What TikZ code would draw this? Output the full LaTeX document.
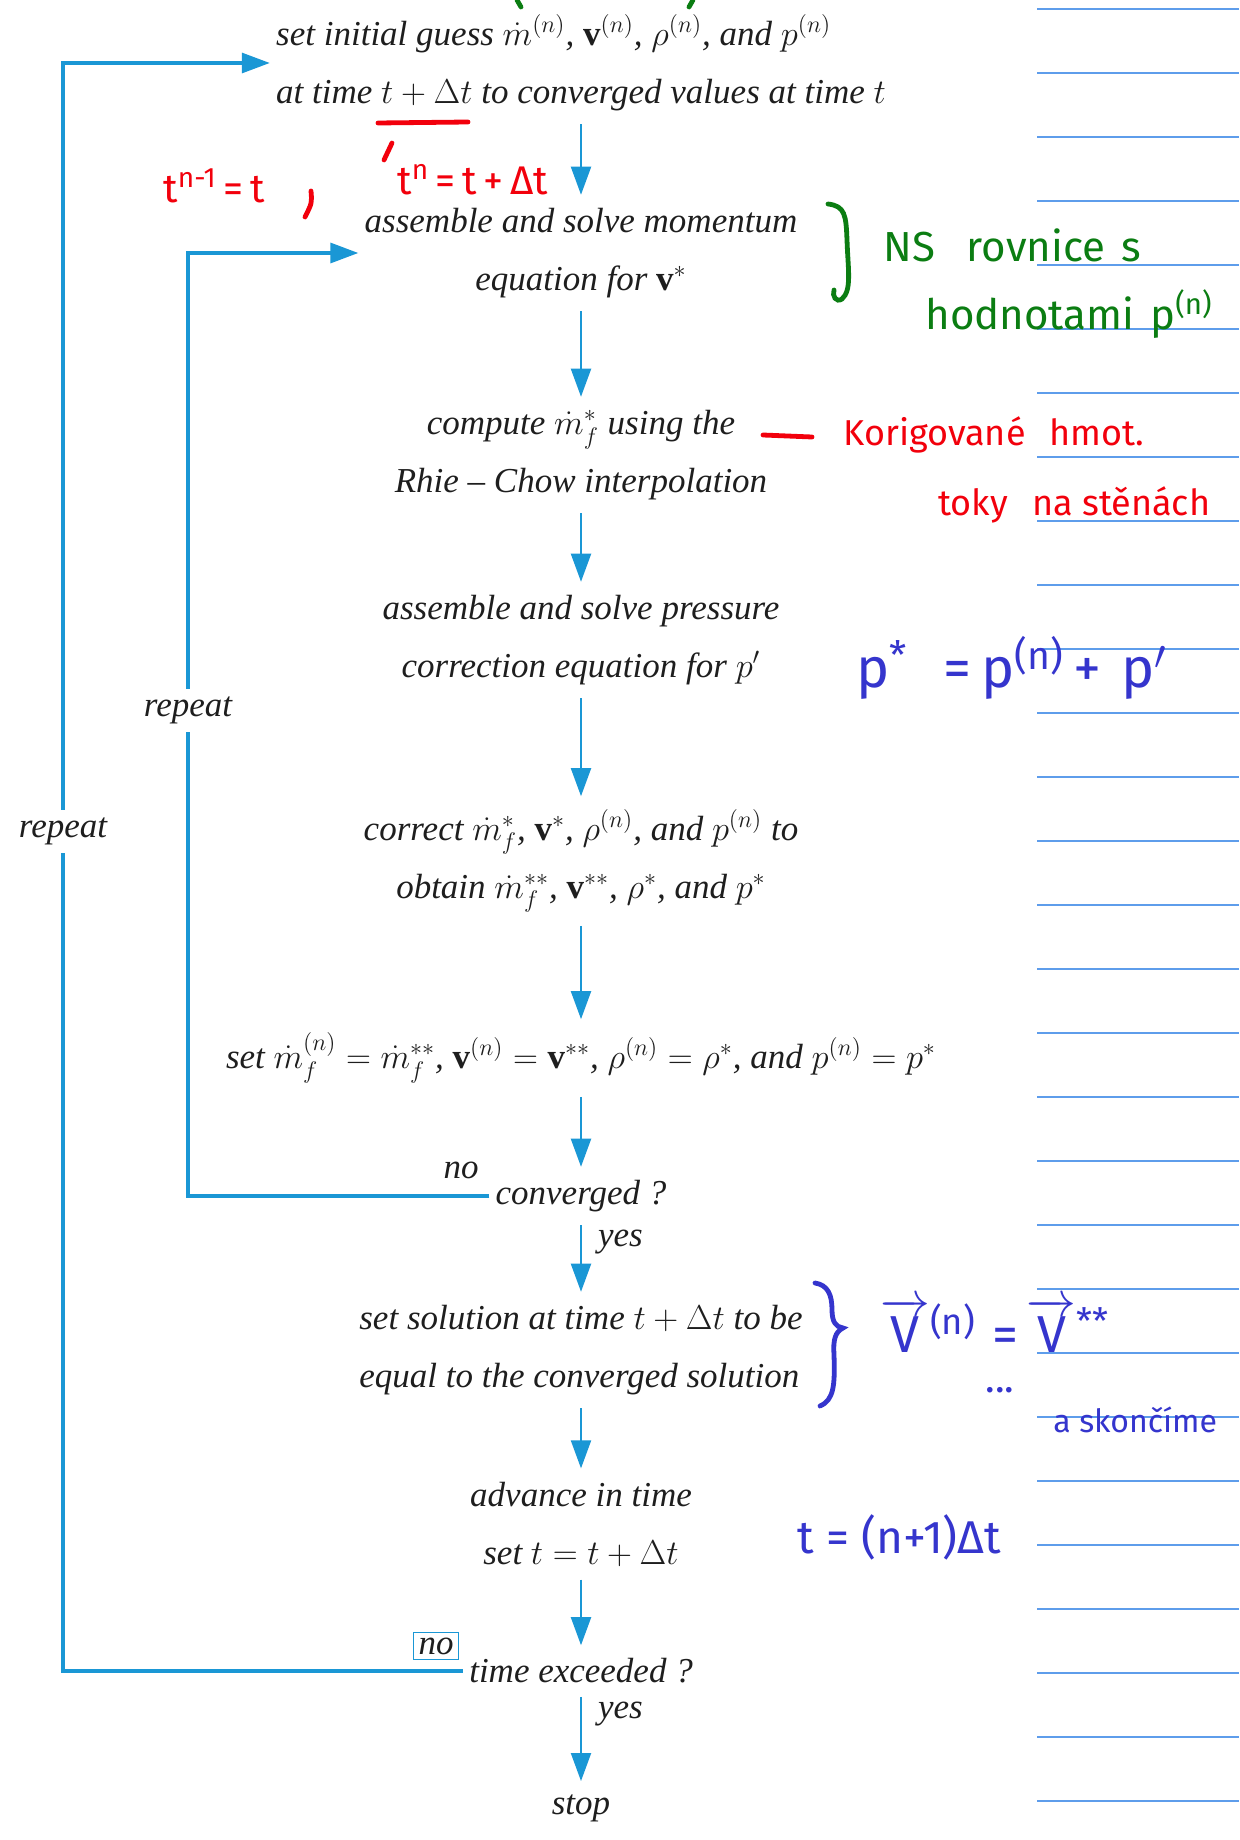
\documentclass[tikz,border=0pt]{standalone}
\usepackage{amsmath}
\usepackage{fontspec}
\setmainfont{Liberation Serif}
\newfontfamily\hand{Fira Sans}
\usetikzlibrary{arrows.meta}
\definecolor{flowblue}{HTML}{1A97D5}
\definecolor{ruleblue}{HTML}{5E9DEB}
\definecolor{inkred}{HTML}{F2000C}
\definecolor{inkgreen}{HTML}{0B7D12}
\definecolor{inkblue}{HTML}{3535CD}
\definecolor{print}{HTML}{1E1E1E}

\begin{document}
\begin{tikzpicture}[x=0.5pt,y=-0.5pt,
  stage/.style={align=center,inner xsep=3pt,inner ysep=6.5pt,text=print,
                font=\fontsize{17.5}{29}\selectfont\itshape},
  tag/.style={inner xsep=1pt,inner ysep=4pt,text=print,font=\fontsize{17.5}{20}\selectfont\itshape},
  fwd/.style={-{Triangle[length=14pt,width=10pt]},line width=1pt,draw=flowblue},
  backline/.style={-{Triangle[length=14pt,width=10pt]},line width=1.6pt,draw=flowblue},
  ink/.style={inner sep=0pt,anchor=west,font=\hand\fontsize{#1}{#1}\selectfont},
  stroke/.style={line width=2.4pt,line cap=round}]
  \path[use as bounding box,fill=white] (0,0) rectangle (1239,1840);

  \foreach \k in {0,...,28}
    \draw[ruleblue,line width=1pt] (1037,{9.4+64*\k}) -- (1239,{9.4+64*\k});

  \node[stage,align=left] (init) at (581,63)
       {set initial guess $\dot{m}^{(n)}$, $\mathbf{v}^{(n)}$, $\rho^{(n)}$, and $p^{(n)}$\\
        at time $t+\Delta t$ to converged values at time $t$};
  \node[stage] (mom) at (581,253) {assemble and solve momentum\\equation for $\mathbf{v}^{*}$};
  \node[stage] (rhie) at (581,455) {compute $\dot{m}^{*}_{f}$ using the\\Rhie – Chow interpolation};
  \node[stage] (press) at (581,640) {assemble and solve pressure\\correction equation for $p'$};
  \node[stage] (corr) at (581,861)
       {correct $\dot{m}^{*}_{f}$, $\mathbf{v}^{*}$, $\rho^{(n)}$, and $p^{(n)}$ to\\
        obtain $\dot{m}^{**}_{f}$, $\mathbf{v}^{**}$, $\rho^{*}$, and $p^{*}$};
  \node[stage] (setn) at (581,1058)
       {set $\dot{m}^{(n)}_{f}=\dot{m}^{**}_{f}$, $\mathbf{v}^{(n)}=\mathbf{v}^{**}$, $\rho^{(n)}=\rho^{*}$, and $p^{(n)}=p^{*}$};
  \node[stage] (conv) at (581,1196) {converged ?};
  \node[stage,align=left] (sol) at (581,1350) {set solution at time $t+\Delta t$ to be\\equal to the converged solution};
  \node[stage] (adv) at (581,1524) {advance in time\\set $t=t+\Delta t$};
  \node[stage] (texc) at (581,1671) {time exceeded ?};
  \node[stage] (stop) at (581,1808) {stop};

  \draw[fwd] (init) -- (mom);
  \draw[fwd] (mom) -- (rhie);
  \draw[fwd] (rhie) -- (press);
  \draw[fwd] (press) -- (corr);
  \draw[fwd] (corr) -- (setn);
  \draw[fwd] (setn) -- (conv);
  \draw[fwd] (conv) -- node[tag,right=7pt,pos=0.25] {yes} (sol);
  \draw[fwd] (sol) -- (adv);
  \draw[fwd] (adv) -- (texc);
  \draw[fwd] (texc) -- node[tag,right=7pt,pos=0.2] {yes} (stop);

  \coordinate (inner) at (188,0);
  \coordinate (outer) at (63,0);
  \draw[backline] (conv.west) -- (conv.west -| inner)
     -- node[tag,fill=white,pos=0.515] {repeat} (inner |- mom.west) -- (mom.west);
  \draw[backline] (texc.west) -- (texc.west -| outer)
     -- node[tag,fill=white,pos=0.522] {repeat} (outer |- init.west) -- (init.west);
  \node[tag] (nofirst) at (461,1170) {no};
  \node[tag,draw=flowblue,line width=0.6pt,inner xsep=2.5pt,inner ysep=2.5pt] (nosecond) at (436,1646) {no};

  \draw[inkgreen,stroke] (517,0) -- (521,7);
  \draw[inkgreen,stroke] (693,0) -- (689,7);
  \draw[inkgreen,stroke] (828,204) .. controls (845,206) and (846,215) .. (847,240)
     .. controls (848,270) and (852,290) .. (842,299) .. controls (836,303) and (832,296) .. (834,290);
  \node[ink=21,text=inkgreen] (ns) at (883,245) {NS\hspace{16pt}rovnice\hspace{8pt}s};
  \node[ink=21,text=inkgreen] (hodn) at (925,314) {hodnotami\hspace{8pt}p\textsuperscript{(n)}};

  \draw[inkred,stroke] (378,123) -- (468,122);
  \draw[inkred,stroke] (392,143) -- (384,160);
  \draw[inkred,stroke] (311,191) .. controls (312,203) .. (305,217);
  \node[ink=20,text=inkred] (tprev) at (163,186) {t\textsuperscript{n-1}\,=\,t};
  \node[ink=20,text=inkred] (tnext) at (397,180) {t\textsuperscript{n}\,=\,t\,+\,Δt};
  \draw[inkred,stroke] (763,435) -- (812,437);
  \node[ink=18,text=inkred] (korig) at (843,435) {Korigované\hspace{12pt}hmot.};
  \node[ink=18,text=inkred] (toky) at (938,505) {toky\hspace{12pt}na stěnách};

  \node[ink=28,text=inkblue] (pstar) at (856,668)
       {p\textsuperscript{*}\hspace{18pt}=\,p\textsuperscript{(n)}\,+\hspace{10pt}p$'$};
  \draw[inkblue,stroke] (815,1283) .. controls (828,1285) and (832,1295) .. (832,1310)
     .. controls (832,1322) and (836,1327) .. (843,1328) .. controls (835,1332) and (833,1340) .. (834,1355)
     .. controls (835,1385) and (834,1400) .. (820,1406);
  \node[ink=26,text=inkblue] (vn) at (880,1325)
       {$\overrightarrow{\mbox{V}}$\textsuperscript{(n)}\hspace{8pt}=\,$\overrightarrow{\mbox{V}}$\textsuperscript{**}};
  \node[ink=20,text=inkblue] (dots) at (985,1390) {...};
  \node[ink=16,text=inkblue] (skonc) at (1053,1420) {a skončíme};
  \node[ink=23,text=inkblue] (tn) at (797,1537) {t = (n+1)Δt};
\end{tikzpicture}
\end{document}
